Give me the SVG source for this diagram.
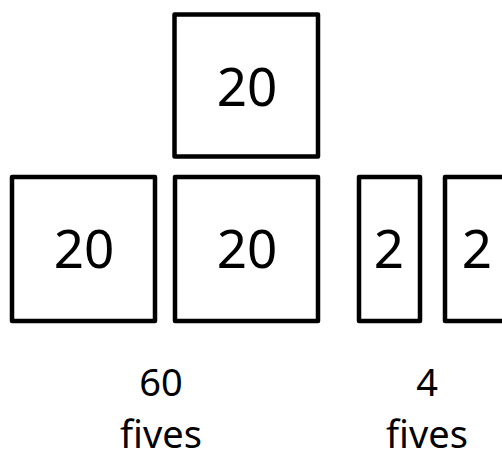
<svg xmlns="http://www.w3.org/2000/svg" width="502" height="455" viewBox="0 0 502 455">
<style>
rect.box{fill:#fff;stroke:#000;stroke-width:4.5;stroke-linejoin:round}
text{font-family:"Noto Sans","Open Sans",sans-serif;fill:#000;text-anchor:middle}
.n{font-size:53px}
.l{font-size:38px}
</style>
<rect width="502" height="455" fill="#fff"/>
<g id="top"><rect class="box" x="174.5" y="14.5" width="143.5" height="142"/><text class="n" x="247" y="106">20</text></g>
<g id="b1"><rect class="box" x="12" y="177" width="143" height="144"/><text class="n" x="84" y="268">20</text></g>
<g id="b2"><rect class="box" x="175" y="177" width="143" height="144"/><text class="n" x="247" y="268">20</text></g>
<g id="b3"><rect class="box" x="359" y="177" width="61" height="144"/><text class="n" x="389" y="268">2</text></g>
<g id="b4"><rect class="box" x="445" y="177" width="70" height="144"/><text class="n" x="477" y="268">2</text></g>
<g id="labels">
<text class="l" x="161" y="396">60</text>
<text class="l" x="161" y="448">fives</text>
<text class="l" x="427" y="396">4</text>
<text class="l" x="427" y="448">fives</text>
</g>
</svg>
